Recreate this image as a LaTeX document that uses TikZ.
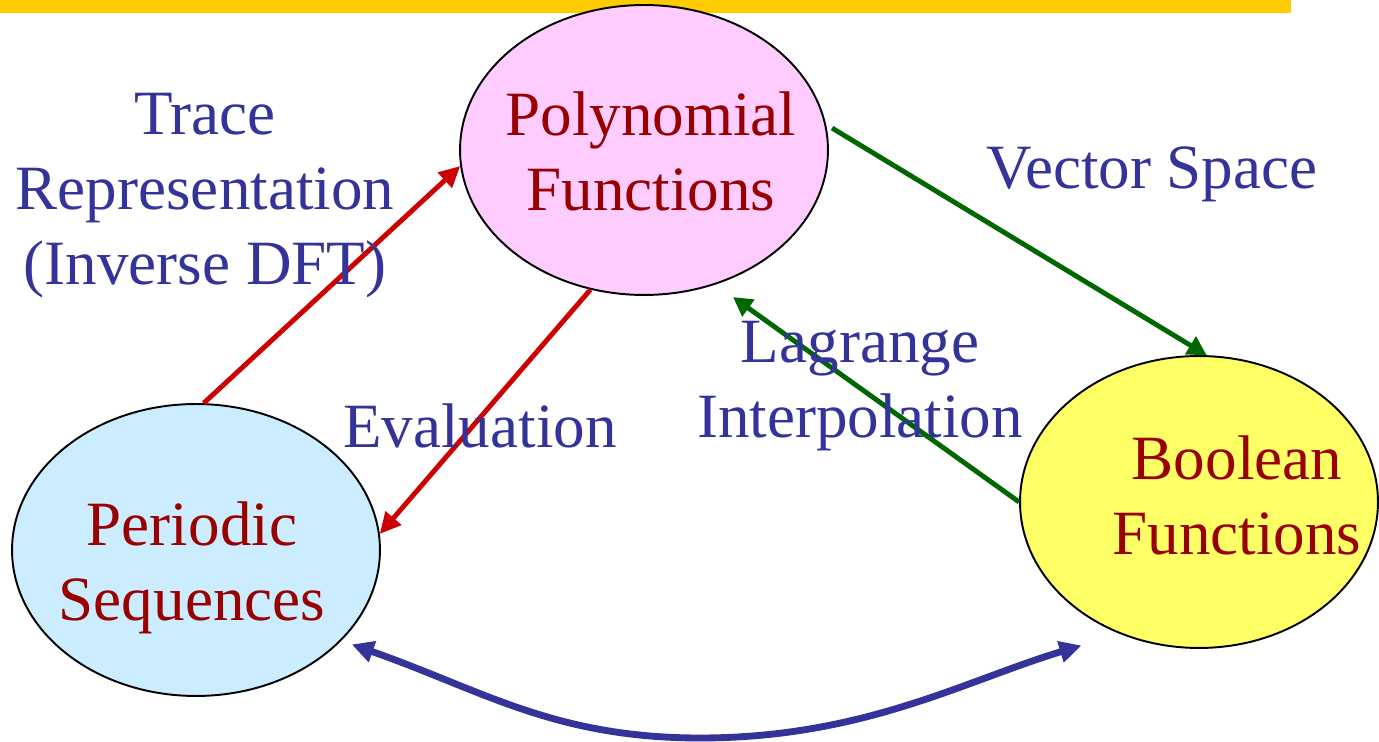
\documentclass[tikz,border=0pt]{standalone}
\usepackage{fontspec}
\setmainfont{Liberation Serif}
\usetikzlibrary{arrows.meta,shapes.geometric}

\definecolor{barcol}{HTML}{FFCC00}
\definecolor{polyfill}{HTML}{FFCCFF}
\definecolor{seqfill}{HTML}{CCECFF}
\definecolor{boolfill}{HTML}{FFFF66}
\definecolor{setred}{HTML}{990000}
\definecolor{labelblue}{HTML}{333399}
\definecolor{mapred}{HTML}{CC0000}
\definecolor{mapgreen}{HTML}{006600}

\tikzset{
  setnode/.style={ellipse, draw=black, line width=1.1pt, inner sep=0pt,
    minimum width=7.36cm, minimum height=5.84cm},
  settext/.style={text=setred, align=center, inner sep=0pt,
    font=\fontsize{35.9}{42.7}\selectfont},
  maplabel/.style={text=labelblue, align=center, inner sep=0pt,
    font=\fontsize{35.9}{42.7}\selectfont},
  redmap/.style={draw=mapred, line width=2.8pt,
    -{Triangle[length=0.42cm,width=0.4cm]}},
  greenmap/.style={draw=mapgreen, line width=2.8pt,
    -{Triangle[length=0.38cm,width=0.4cm]}},
  bluemap/.style={draw=labelblue, line width=3.9pt,
    {Triangle[length=0.44cm,width=0.42cm]}-{Triangle[length=0.44cm,width=0.42cm]}}
}

\begin{document}
\begin{tikzpicture}[x=0.02cm,y=-0.02cm]
  \useasboundingbox (0,0) rectangle (1379,742);
  % Title bar
  \fill[barcol] (0,0) rectangle (1291,13);

  % The three sets
  \node[setnode, fill=polyfill, minimum height=5.8cm] (polynomial) at (644,150) {};
  \node[setnode, fill=seqfill] (periodic) at (196,550) {};
  \node[setnode, fill=boolfill, minimum width=7.16cm] (boolean) at (1199,502) {};
  \node[settext] (polytext) at (651,151) {Polynomial\\Functions};
  \node[settext] (seqtext) at (192,568) {Periodic\\Sequences};
  \node[settext] (booltext) at (1237,495) {Boolean\\Functions};

  % Maps between them
  \draw[redmap] (periodic.87) -- (polynomial.185);
  \draw[redmap] (polynomial.249) -- (periodic.5);
  \draw[greenmap, shorten <=4pt] (polynomial.8) -- (boolean.87);
  \draw[greenmap, shorten >=0.43cm] (boolean.west) -- (polynomial.298);
  \draw[bluemap, shorten <=0.22cm, shorten >=0.8cm] (periodic.328)
    .. controls (482,690) and (554,738) .. (700,738)
    .. controls (863,738) and (964,681) .. (boolean.239);

  % Labels
  \node[maplabel] (tracelabel) at (205,196) {Trace\\Representation\\(Inverse DFT)};
  \node[maplabel, anchor=base] (evallabel) at (480,448) {Evaluation};
  \node[maplabel, anchor=base] (vectorlabel) at (1152,189) {Vector Space};
  \node[maplabel] (lagrangelabel) at (860,386) {Lagrange\\Interpolation};
\end{tikzpicture}
\end{document}
